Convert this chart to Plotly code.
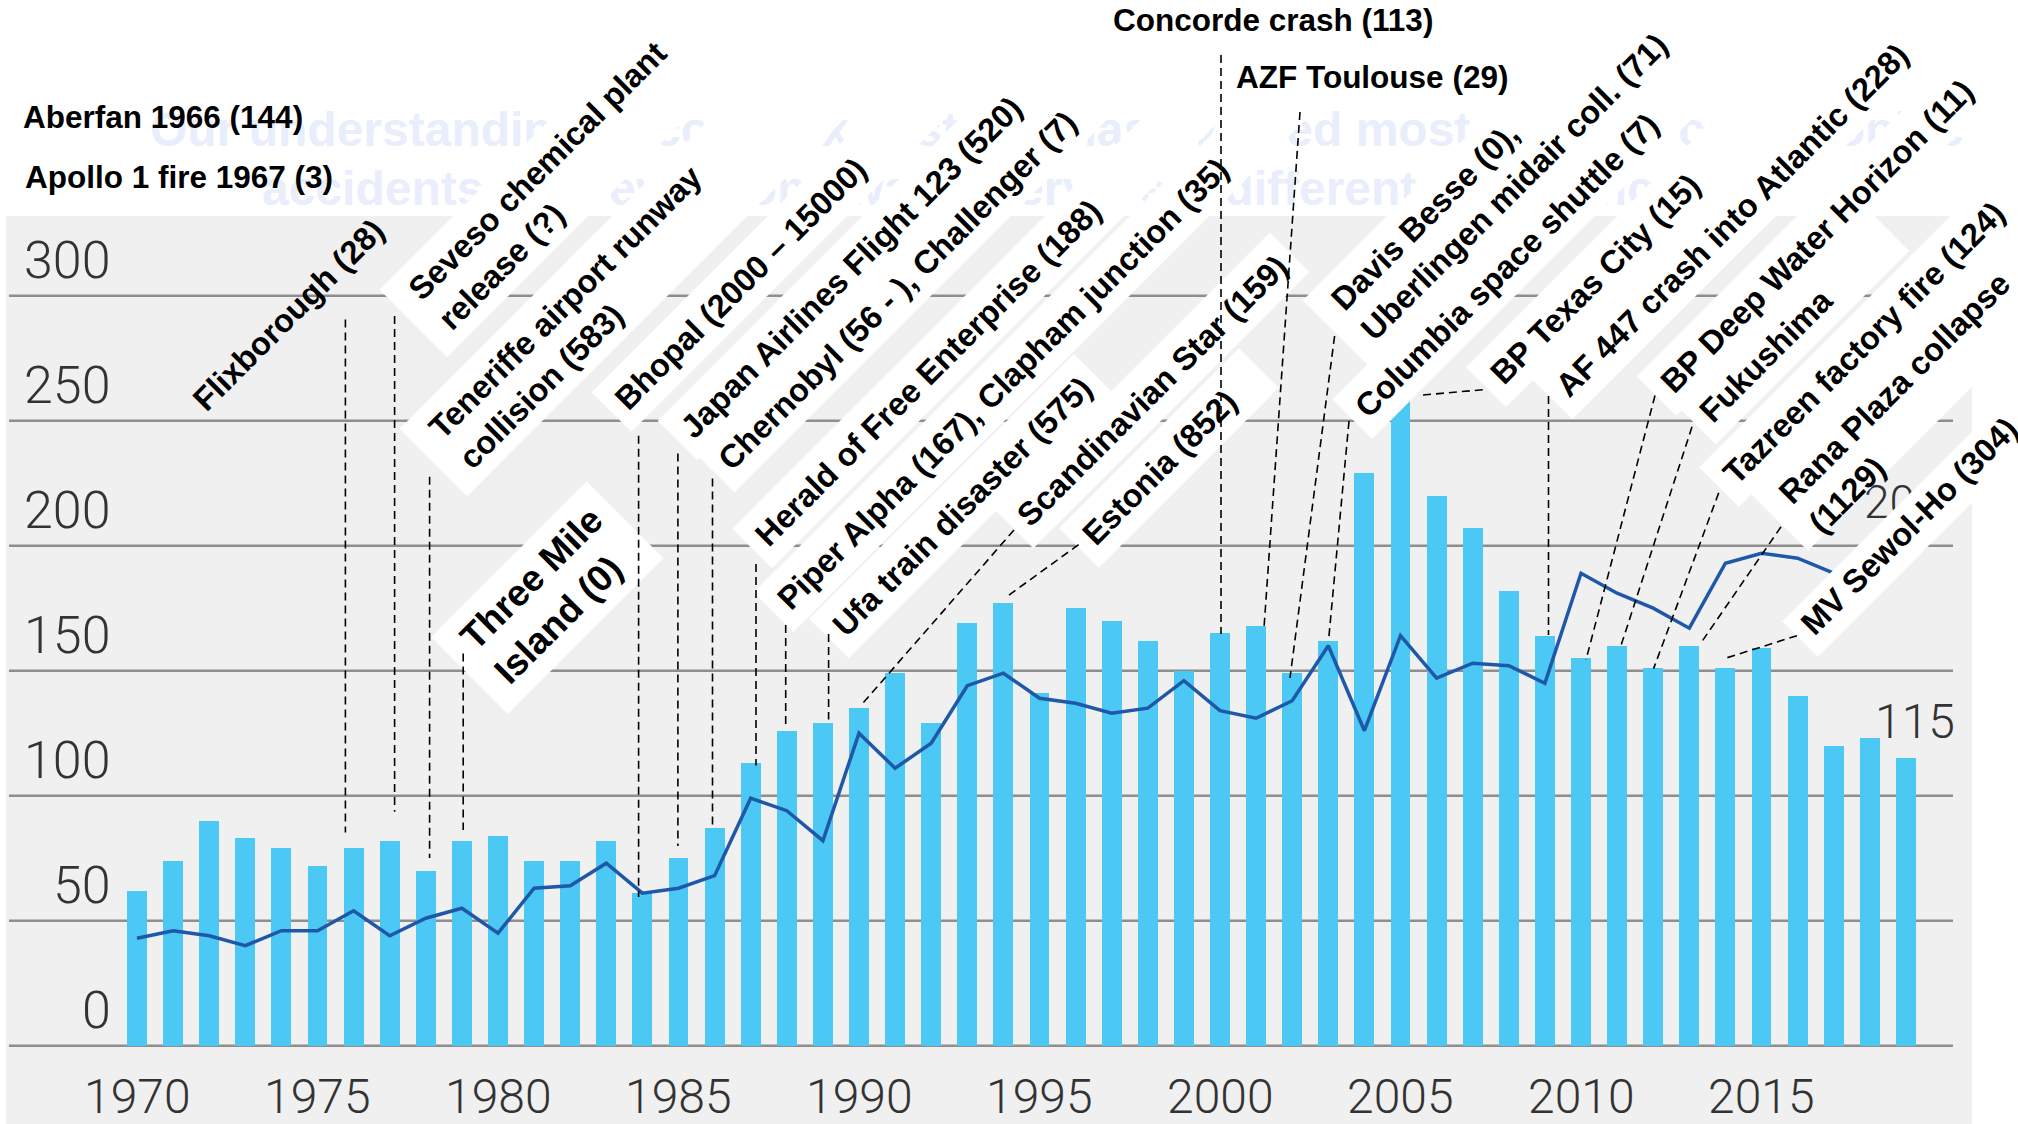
import math
import plotly.graph_objects as go

# ---------------- data ----------------
years = list(range(1970, 2020))
accidents = [62, 74, 90, 83, 79, 72, 79, 82, 70, 82,
             84, 74, 74, 82, 61, 75, 87, 113, 126, 129,
             135, 149, 129, 169, 177, 141, 175, 170, 162, 150,
             165, 168, 149, 162, 229, 258, 220, 207, 182, 164,
             155, 160, 151, 160, 151, 159, 140, 120, 123, 115]
trend_years = list(range(1970, 2018))
trend = [43, 46, 44, 40, 46, 46, 54, 44, 51, 55,
         45, 63, 64, 73, 61, 63, 68, 99, 94, 82,
         125, 111, 121, 144, 149, 139, 137, 133, 135, 146,
         134, 131, 138, 160, 126, 164, 147, 153, 152, 145,
         189, 181, 175, 167, 193, 197, 195, 189]
x_tick_years = [1970, 1975, 1980, 1985, 1990, 1995, 2000, 2005, 2010, 2015]
y_tick_values = [0, 50, 100, 150, 200, 250, 300]
end_label = "115"
hidden_label = "20"
ghost_lines = ["Our understanding of complex systems has evolved most through catastrophic",
               "accidents, and every one was a very, very different experience"]

header_notes = [
    ("Aberfan 1966 (144)", 21, 117),
    ("Apollo 1 fire 1967 (3)", 23, 177),
    ("Concorde crash (113)", 1111, 20),
    ("AZF Toulouse (29)", 1234, 77),
]

LONG = 320  # boxes that run on into the white area above the panel
events = [
    dict(lines=["Flixborough (28)"], start=(198, 404), box=False),
    dict(lines=["Seveso chemical plant", "release (?)"], start=(407, 300), extR=LONG),
    dict(lines=["Teneriffe airport runway", "collision (583)"], start=(427, 439), extR=LONG),
    dict(lines=["Three Mile", "Island (0)"], start=(461, 650), size=37, extR=25),
    dict(lines=["Bhopal (2000 \u2013 15000)"], start=(620, 403.5), extR=LONG),
    dict(lines=["Japan Airlines Flight 123 (520)"], start=(686, 432), extR=LONG),
    dict(lines=["Chernobyl (56 - ), Challenger (7)"], start=(723, 464), extR=LONG),
    dict(lines=["Herald of Free Enterprise (188)"], start=(760.5, 540), extR=LONG),
    dict(lines=["Piper Alpha (167), Clapham junction (35)"], start=(782, 603.6), extR=LONG),
    dict(lines=["Ufa train disaster (575)"], start=(837.5, 630)),
    dict(lines=["Scandinavian Star (159)"], start=(1022, 520)),
    dict(lines=["Estonia (852)"], start=(1087.5, 539.3), extR=40),
    dict(lines=["Davis Besse (0),", "Uberlingen midair coll. (71)"], start=(1330, 310.7), extR=LONG),
    dict(lines=["Columbia space shuttle (7)"], start=(1360.7, 410.7), extR=LONG),
    dict(lines=["BP Texas City (15)"], start=(1494.6, 378.6), extR=LONG),
    dict(lines=["AF 447 crash into Atlantic (228)"], start=(1561, 391), extR=LONG),
    dict(lines=["BP Deep Water Horizon (11)"], start=(1665, 387.5), extR=LONG),
    dict(lines=["Fukushima"], start=(1704.4, 416), extR=90),
    dict(lines=["Tazreen factory fire (124)"], start=(1727.6, 478.6), extR=LONG),
    dict(lines=["Rana Plaza collapse", "(1129)"], start=(1777.6, 503.6), extR=LONG, cutS=14),
    dict(lines=["MV Sewol-Ho (304)"], start=(1806.3, 628.3), extR=LONG, cutT=6),
]

leaders = [
    ((345.4, 319.6), (345.4, 832.5)),
    ((394.6, 316), (394.6, 811.7)),
    ((429.6, 476.8), (429.6, 858)),
    ((463.2, 653.6), (463.2, 830)),
    ((638.6, 435.7), (638.6, 897)),
    ((677.9, 453.6), (677.9, 846)),
    ((712.5, 478.6), (712.5, 825.5)),
    ((756, 564), (756, 765.4)),
    ((785.7, 625), (785.7, 729)),
    ((828.6, 634), (828.6, 719.6)),
    ((1014, 530), (862.5, 703.6)),
    ((1078.6, 544.6), (1005, 598)),
    ((1221, 55), (1221, 634)),
    ((1300, 112), (1264, 628)),
    ((1334.6, 336), (1290, 678)),
    ((1349, 421), (1328.5, 641)),
    ((1423, 395), (1487.5, 389.3)),
    ((1548.5, 396), (1548.5, 635)),
    ((1655, 395.5), (1586, 660)),
    ((1692, 426.8), (1620.6, 646.8)),
    ((1718.7, 492.9), (1653.6, 668.6)),
    ((1781, 526.8), (1700.9, 643)),
    ((1797, 635.7), (1724.6, 658.5)),
]

# ---------------- layout helpers ----------------
W, H = 2018, 1124
X0, PX_YR = 137.0, 36.1
Y0, PX_V = 1045.7, 2.5


def xd(px):
    return 1970 + (px - X0) / PX_YR


def yd(py):
    return (Y0 - py) / PX_V


AW = {' ': 278, '!': 333, '(': 333, ')': 333, ',': 278, '-': 333, '.': 278, '?': 611,
      '\u2013': 556,
      'A': 722, 'B': 722, 'C': 722, 'D': 722, 'E': 667, 'F': 611, 'G': 778, 'H': 722,
      'I': 278, 'J': 556, 'K': 722, 'L': 611, 'M': 833, 'N': 722, 'O': 778, 'P': 667,
      'Q': 778, 'R': 722, 'S': 667, 'T': 611, 'U': 722, 'V': 667, 'W': 944, 'X': 667,
      'Y': 667, 'Z': 611,
      'a': 556, 'b': 611, 'c': 556, 'd': 611, 'e': 556, 'f': 333, 'g': 611, 'h': 611,
      'i': 278, 'j': 278, 'k': 556, 'l': 278, 'm': 889, 'n': 611, 'o': 611, 'p': 611,
      'q': 611, 'r': 389, 's': 556, 't': 333, 'u': 611, 'v': 556, 'w': 778, 'x': 556,
      'y': 556, 'z': 500}


def tw(s, f):
    return sum(AW.get(c, 556) for c in s) / 1000.0 * f


ANG = 45.0
ca, sa = math.cos(math.radians(ANG)), math.sin(math.radians(ANG))
U = (ca, -sa)   # along text (up-right)
N = (sa, ca)    # perpendicular (down-right)
TEXT_NUDGE = 12.0   # empirical offset of rotated text along N
MULTI_NUDGE = 9.0   # extra offset along U for multi-line labels
LABEL_SIZE = 32.5


def pt(p, a, b):
    return (p[0] + a * U[0] + b * N[0], p[1] + a * U[1] + b * N[1])


LABEL_FONT = "Liberation Sans, Arial, Helvetica, sans-serif"
TICK_FONT = "Roboto, Lato, Liberation Sans, sans-serif"
GRID = "#8e8e8e"
BG = "#f0f0f1"
BAR = "#4bc8f4"
LINE = "#1f58a8"
TICKC = "#333333"

shapes = []
annotations = []

# grey panel
shapes.append(dict(type="rect", xref="x", yref="y", layer="below",
                   x0=xd(6), x1=xd(1972), y0=yd(H), y1=yd(216),
                   fillcolor=BG, line=dict(width=0)))
# gridlines
for v in y_tick_values:
    shapes.append(dict(type="line", xref="x", yref="y", layer="below",
                       x0=xd(9), x1=xd(1953), y0=v, y1=v,
                       line=dict(color=GRID, width=2.5)))

# event label boxes + texts
for ev in events:
    F = ev.get("size", LABEL_SIZE)
    lines = ev["lines"]
    n = len(lines)
    ls = 1.3 * F
    L = max(tw(s, F) for s in lines)
    st = ev["start"]
    if ev.get("box", True):
        padL = ev.get("padL", 12)
        extR = ev.get("extR", 12)
        nc = (n - 1) * ls / 2.0
        half = (57.0 * F / 33.0 + (n - 1) * ls * 0.93) / 2.0
        top = nc - half + ev.get("cutT", 0)
        bot = nc + half - ev.get("cutS", 0)
        cs = [pt(st, -padL, top), pt(st, L + extR, top),
              pt(st, L + extR, bot), pt(st, -padL, bot)]
        path = "M " + " L ".join("%.4f,%.4f" % (xd(c[0]), yd(c[1])) for c in cs) + " Z"
        shapes.append(dict(type="path", xref="x", yref="y", layer="above", path=path,
                           fillcolor="white", line=dict(width=0)))
    along = L / 2.0 + (MULTI_NUDGE if n > 1 else 0.0)
    c = pt(st, along, (n - 1) * 0.65 * F - 0.3465 * F + TEXT_NUDGE)
    annotations.append(dict(x=xd(c[0]), y=yd(c[1]), xref="x", yref="y",
                            text="<br>".join(lines), showarrow=False,
                            textangle=-ANG, align="left",
                            xanchor="center", yanchor="middle",
                            font=dict(family=LABEL_FONT, size=F, color="black", weight="bold")))

# leader lines
for (p1, p2) in leaders:
    shapes.append(dict(type="line", xref="x", yref="y", layer="above",
                       x0=xd(p1[0]), y0=yd(p1[1]), x1=xd(p2[0]), y1=yd(p2[1]),
                       line=dict(color="black", width=1.6, dash="8px,5px")))

# header notes
for txt, px, py in header_notes:
    annotations.append(dict(x=xd(px), y=yd(py), xref="x", yref="y", text=txt,
                            showarrow=False, xanchor="left", yanchor="middle",
                            font=dict(family=LABEL_FONT, size=31.5, color="black", weight="bold")))

# tick labels
for v in y_tick_values:
    annotations.append(dict(x=xd(113), y=v + 35 / PX_V, xref="x", yref="y", text=str(v),
                            showarrow=False, xanchor="right", yanchor="middle",
                            font=dict(family=TICK_FONT, size=52, color=TICKC, weight=300)))
for yr in x_tick_years:
    annotations.append(dict(x=yr, y=yd(1096), xref="x", yref="y", text=str(yr),
                            showarrow=False, xanchor="center", yanchor="middle",
                            font=dict(family=TICK_FONT, size=48, color=TICKC, weight=300)))
annotations.append(dict(x=xd(1915), y=yd(721), xref="x", yref="y", text=end_label,
                        showarrow=False, xanchor="center", yanchor="middle",
                        font=dict(family=TICK_FONT, size=48, color=TICKC, weight=300)))

fig = go.Figure()
# faint background title (partly hidden by label boxes)
fig.add_trace(go.Scatter(x=[xd(150), xd(262)], y=[yd(134), yd(193)], mode="text",
                         text=ghost_lines, textposition="middle right", hoverinfo="skip",
                         textfont=dict(family=LABEL_FONT, size=48, color="#e8eefc", weight="bold")))
fig.add_trace(go.Bar(x=years, y=accidents, width=0.55, marker=dict(color=BAR, line=dict(width=0)),
                     hoverinfo="skip"))
fig.add_trace(go.Scatter(x=trend_years, y=trend, mode="lines",
                         line=dict(color=LINE, width=3.5), hoverinfo="skip"))
# label of the line end, mostly hidden behind the label boxes
fig.add_trace(go.Scatter(x=[xd(1864)], y=[yd(506)], mode="text", text=[hidden_label],
                         textposition="middle right", hoverinfo="skip",
                         textfont=dict(family=TICK_FONT, size=46, color=TICKC, weight=300)))

fig.update_layout(
    width=W, height=H, margin=dict(l=0, r=0, t=0, b=0),
    paper_bgcolor="white", plot_bgcolor="white", showlegend=False,
    xaxis=dict(range=[xd(0), xd(W)], visible=False, fixedrange=True),
    yaxis=dict(range=[yd(H), yd(0)], visible=False, fixedrange=True),
    shapes=shapes, annotations=annotations, bargap=0,
)
fig.write_html("out.html", config={"displayModeBar": False})
